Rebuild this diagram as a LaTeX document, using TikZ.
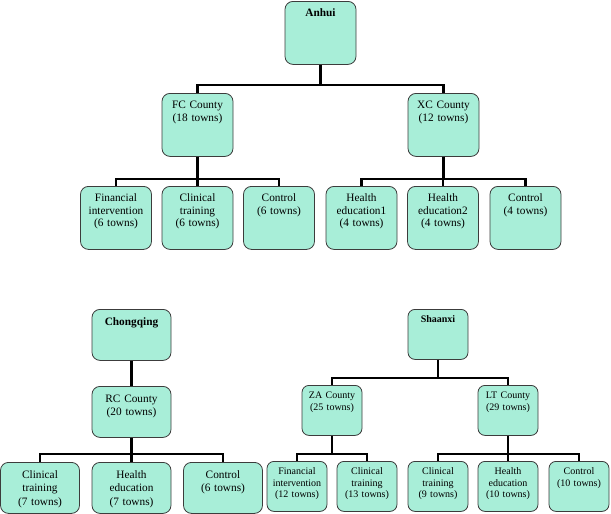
\documentclass[tikz,border=0pt]{standalone}
\usepackage{fontspec}
\setmainfont{Liberation Serif}
\usepackage{xcolor}
\usetikzlibrary{positioning}
\definecolor{mint}{RGB}{168,238,216}
\definecolor{rim}{RGB}{60,60,60}

\begin{document}
\begin{tikzpicture}[
    x=1pt, y=-1pt,
    cell/.style={draw=rim, line width=0.8pt, fill=mint, rounded corners=8pt, anchor=north, align=center, inner sep=0pt},
    topbox/.style={cell, text width=71pt, text height=15pt, text depth=48pt, font=\fontsize{11.3}{12.6}\selectfont},
    leftbox/.style={cell, text width=79pt, text height=16pt, text depth=35pt, font=\fontsize{11.3}{13.3}\selectfont},
    rightbox/.style={cell, text width=60pt, text height=13pt, text depth=37pt, rounded corners=7pt, font=\fontsize{10}{11.6}\selectfont},
    link/.style={line width=2.4pt}
]
    \useasboundingbox (0,0) rectangle (611,514);

    % TOP: ANHUI
    \node (Anhui) [topbox] at (320.5,1) {\textbf{Anhui}};
    \node (FC) [topbox] at (197.5,93) {FC County\\(18 towns)};
    \node (XC) [topbox] at (443.5,93) {XC County\\(12 towns)};
    \node (FCfin) [topbox] at (116,186) {Financial\\intervention\\(6 towns)};
    \node (FCclin) [topbox] at (197.5,186) {Clinical\\training\\(6 towns)};
    \node (FCctrl) [topbox] at (279,186) {Control\\(6 towns)};
    \node (XCedu1) [topbox] at (361.5,186) {Health\\education1\\(4 towns)};
    \node (XCedu2) [topbox] at (443,186) {Health\\education2\\(4 towns)};
    \node (XCctrl) [topbox] at (525.5,186) {Control\\(4 towns)};

    \draw[link] (Anhui.south) -- ++(0,20) -| (FC.north);
    \draw[link] (Anhui.south) -- ++(0,20) -| (XC.north);
    \draw[link] (FC.south) -- ++(0,22) -| (FCfin.north);
    \draw[link] (FC.south) -- ++(0,22) -| (FCclin.north);
    \draw[link] (FC.south) -- ++(0,22) -| (FCctrl.north);
    \draw[link] (XC.south) -- ++(0,22) -| (XCedu1.north);
    \draw[link] (XC.south) -- ++(0,22) -| (XCedu2.north);
    \draw[link] (XC.south) -- ++(0,22) -| (XCctrl.north);

    % BOTTOM LEFT: CHONGQING
    \node (Chongqing) [leftbox] at (131.5,309) {\textbf{Chongqing}};
    \node (RC) [leftbox] at (131.5,386) {RC County\\(20 towns)};
    \node (RCclin) [leftbox] at (40,462) {Clinical\\training\\(7 towns)};
    \node (RCedu) [leftbox] at (131.5,462) {Health\\education\\(7 towns)};
    \node (RCctrl) [leftbox] at (223,462) {Control\\(6 towns)};

    \draw[link] (Chongqing.south) -- (RC.north);
    \draw[link] (RC.south) -- ++(0,16) -| (RCclin.north);
    \draw[link] (RC.south) -- ++(0,16) -| (RCedu.north);
    \draw[link] (RC.south) -- ++(0,16) -| (RCctrl.north);

    % BOTTOM RIGHT: SHAANXI
    \node (Shaanxi) [rightbox] at (438,309) {\textbf{Shaanxi}};
    \node (ZA) [rightbox] at (332,385) {ZA County\\(25 towns)};
    \node (LT) [rightbox] at (508,385) {LT County\\(29 towns)};
    \node (ZAfin) [rightbox] at (297,461) {Financial\\intervention\\(12 towns)};
    \node (ZAclin) [rightbox] at (367,461) {Clinical\\training\\(13 towns)};
    \node (LTclin) [rightbox] at (438,461) {Clinical\\training\\(9 towns)};
    \node (LTedu) [rightbox] at (508,461) {Health\\education\\(10 towns)};
    \node (LTctrl) [rightbox] at (579,461) {Control\\(10 towns)};

    \draw[link] (Shaanxi.south) -- ++(0,18) -| (ZA.north);
    \draw[link] (Shaanxi.south) -- ++(0,18) -| (LT.north);
    \draw[link] (ZA.south) -- ++(0,18) -| (ZAfin.north);
    \draw[link] (ZA.south) -- ++(0,18) -| (ZAclin.north);
    \draw[link] (LT.south) -- ++(0,18) -| (LTclin.north);
    \draw[link] (LT.south) -- ++(0,18) -| (LTedu.north);
    \draw[link] (LT.south) -- ++(0,18) -| (LTctrl.north);
\end{tikzpicture}
\end{document}
